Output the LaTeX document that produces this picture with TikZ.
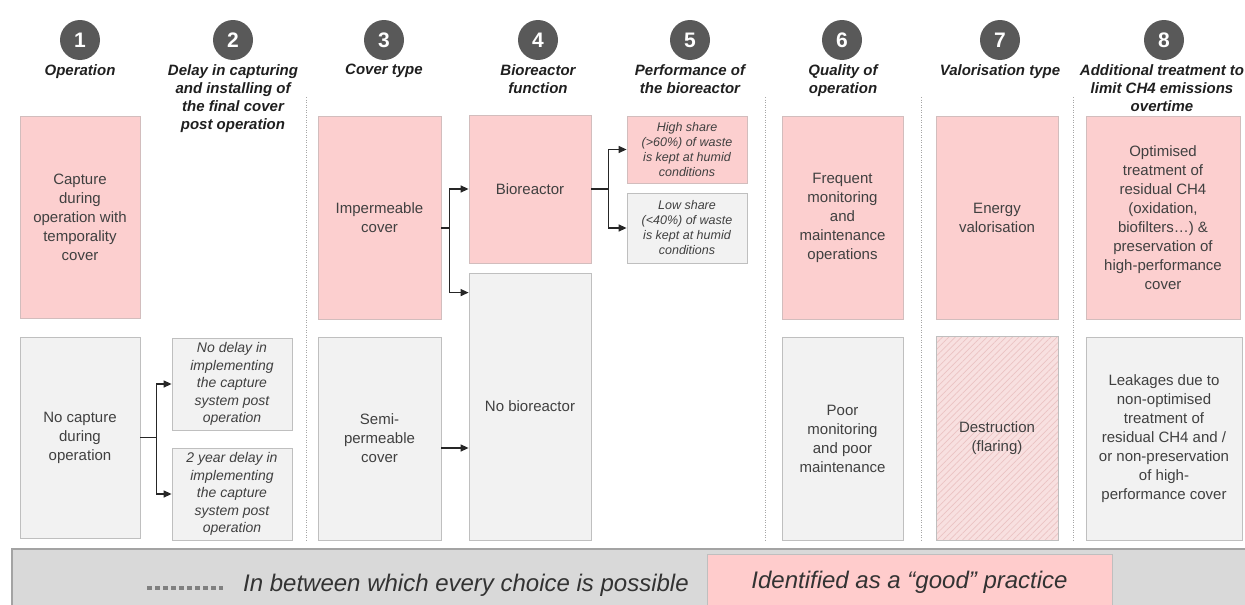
\documentclass[tikz,border=0pt]{standalone}
\usepackage{fontspec}
\setmainfont{Liberation Sans}
\usetikzlibrary{arrows.meta,patterns.meta,calc}

\definecolor{numgray}{HTML}{595959}
\definecolor{headtext}{HTML}{1F1F1F}
\definecolor{bodytext}{HTML}{404040}
\definecolor{pinkfill}{HTML}{FCCFCF}
\definecolor{pinkline}{HTML}{D2BDBD}
\definecolor{grayfill}{HTML}{F2F2F2}
\definecolor{grayline}{HTML}{BFBFBF}
\definecolor{hatchfill}{HTML}{F8E0E0}
\definecolor{hatchline}{HTML}{EBC3C3}
\definecolor{sepgray}{HTML}{A6A6A6}
\definecolor{legendgray}{HTML}{D9D9D9}
\definecolor{legendline}{HTML}{A3A3A3}
\definecolor{legendpink}{HTML}{FFCCCC}
\definecolor{arrowcol}{HTML}{262626}

\begin{document}
\begin{tikzpicture}[x=1pt,y=-1pt,
  num/.style={circle, fill=numgray, text=white, minimum size=40pt, inner sep=0pt,
    font=\fontsize{21}{24}\selectfont\bfseries},
  head/.style={anchor=north, align=center, inner sep=0pt, text=headtext,
    font=\fontsize{15}{18}\selectfont\bfseries\itshape},
  box/.style={inner sep=2pt, align=center, text=bodytext, line width=0.8pt,
    font=\fontsize{15}{19}\selectfont},
  goodbox/.style={box, fill=pinkfill, draw=pinkline},
  otherbox/.style={box, fill=grayfill, draw=grayline},
  hatchbox/.style={box, draw=grayline,
    preaction={fill=hatchfill},
    pattern={Lines[angle=45,distance=4.5pt,line width=0.7pt]}, pattern color=hatchline},
  smallnote/.style={font=\fontsize{12.5}{15}\selectfont\itshape},
  delaynote/.style={font=\fontsize{14}{17.5}\selectfont\itshape},
  sep/.style={draw=sepgray, line width=0.9pt, dash pattern=on 1pt off 1.5pt},
  link/.style={draw=arrowcol, line width=1.3pt, -{Triangle[length=8pt,width=7pt]}},
  plainlink/.style={draw=arrowcol, line width=1.3pt}
]
\useasboundingbox (0,0) rectangle (1245,605);

% step numbers
\node[num] (n1) at (80,40) {1};
\node[num] (n2) at (233,40) {2};
\node[num] (n3) at (384,40) {3};
\node[num] (n4) at (538,40) {4};
\node[num] (n5) at (690,40) {5};
\node[num] (n6) at (842,40) {6};
\node[num] (n7) at (1000,40) {7};
\node[num] (n8) at (1164,40) {8};

% column headings
\node[head] (h1) at (80,64) {Operation};
\node[head] (h2) at (233,64) {Delay in capturing\\and installing of\\the final cover\\post operation};
\node[head] (h3) at (384,64) {Cover type};
\node[head] (h4) at (538,64) {Bioreactor\\function};
\node[head] (h5) at (690,64) {Performance of\\the bioreactor};
\node[head] (h6) at (843,64) {Quality of\\operation};
\node[head] (h7) at (1000,64) {Valorisation type};
\node[head] (h8) at (1162,64) {Additional treatment to\\limit CH4 emissions\\overtime};

% dotted column separators
\draw[sep] (306,97) -- (306,540);
\draw[sep] (765,97) -- (765,540);
\draw[sep] (921,97) -- (921,540);
\draw[sep] (1073,97) -- (1073,540);

% column 1
\node[goodbox, minimum width=120pt, minimum height=202pt] (cap) at (80,217)
  {Capture\\during\\operation with\\temporality\\cover};
\node[otherbox, minimum width=120pt, minimum height=201pt] (nocap) at (80,437.5)
  {No capture\\during\\operation};

% column 2
\node[otherbox, delaynote, minimum width=120pt, minimum height=92pt] (nodelay) at (232,384)
  {No delay in\\implementing\\the capture\\system post\\operation};
\node[otherbox, delaynote, minimum width=120pt, minimum height=92pt] (twoyear) at (232,494)
  {2 year delay in\\implementing\\the capture\\system post\\operation};

% column 3
\node[goodbox, minimum width=123pt, minimum height=203pt] (imp) at (379.5,217.5)
  {Impermeable\\cover};
\node[otherbox, minimum width=123pt, minimum height=203pt] (semi) at (379.5,438.5)
  {Semi-\\permeable\\cover};

% column 4
\node[goodbox, minimum width=122pt, minimum height=148pt] (bio) at (530,189)
  {Bioreactor};
\node[otherbox, minimum width=122pt, minimum height=267pt] (nobio) at (530,406.5)
  {No bioreactor};

% column 5
\node[goodbox, smallnote, minimum width=120pt, minimum height=67pt] (high) at (687,149.5)
  {High share\\(>60\%) of waste\\is kept at humid\\conditions};
\node[otherbox, smallnote, minimum width=120pt, minimum height=70pt] (low) at (687,228)
  {Low share\\(<40\%) of waste\\is kept at humid\\conditions};

% column 6
\node[goodbox, minimum width=121pt, minimum height=203pt] (freq) at (842.5,217.5)
  {Frequent\\monitoring\\and\\maintenance\\operations};
\node[otherbox, minimum width=121pt, minimum height=203pt] (poor) at (842.5,438.5)
  {Poor\\monitoring\\and poor\\maintenance};

% column 7
\node[goodbox, minimum width=122pt, minimum height=203pt] (energy) at (997,217.5)
  {Energy\\valorisation};
\node[hatchbox, minimum width=122pt, minimum height=204pt] (destr) at (997,438)
  {Destruction\\(flaring)};

% column 8
\node[goodbox, minimum width=154pt, minimum height=203pt] (optim) at (1163,217.5)
  {Optimised\\treatment of\\residual CH4\\(oxidation,\\biofilters…) \&\\preservation of\\high-performance\\cover};
\node[otherbox, minimum width=156pt, minimum height=203pt] (leak) at (1164,438.5)
  {Leakages due to\\non-optimised\\treatment of\\residual CH4 and /\\or non-preservation\\of high-\\performance cover};

% connectors
\draw[plainlink] (nocap.east) -- ++(16,0) coordinate (j1);
\draw[link] (j1) |- (nodelay.west);
\draw[link] (j1) |- (twoyear.west);

\draw[plainlink] ([yshift=-10.5pt]imp.east) -- ++(8,0) coordinate (j3);
\draw[link] (j3) |- (bio.west);
\draw[link] (j3) |- ([yshift=-20pt]nobio.north west);
\draw[link] ([yshift=-9.5pt]semi.east) -- ([yshift=-9.5pt]semi.east -| nobio.west);

\draw[plainlink] (bio.east) -- ++(17,0) coordinate (j4);
\draw[link] (j4) |- (high.west);
\draw[link] (j4) |- (low.west);

% legend strip
\fill[legendgray] (12,549) rectangle (1250,610);
\draw[legendline, line width=2pt] (12,610) -- (12,549) -- (1250,549);
\coordinate (dotA) at (147,588);
\coordinate (dotB) at (223,588);
\draw[draw=gray, line width=4pt, dash pattern=on 5pt off 3pt] (dotA) -- (dotB);
\node[anchor=west, inner sep=0pt, text=bodytext!80!black,
  font=\fontsize{24}{28}\selectfont\itshape] (legsep) at (243,585)
  {In between which every choice is possible};
\node[draw=grayline, fill=legendpink, line width=0.8pt, minimum width=405pt, minimum height=56pt,
  inner sep=0pt, text=bodytext!80!black, font=\fontsize{24}{28}\selectfont\itshape]
  (leggood) at (909.5,582) {Identified as a “good” practice};
\end{tikzpicture}
\end{document}
